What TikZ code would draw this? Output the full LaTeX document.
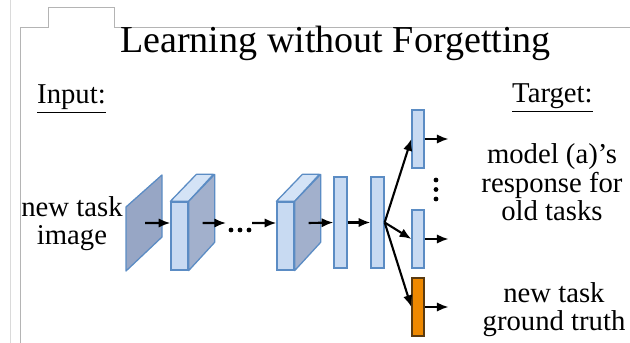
\documentclass[tikz,border=0pt]{standalone}
\usepackage{fontspec}
\setmainfont{Liberation Serif}
\usetikzlibrary{positioning,arrows.meta}
\definecolor{lwfFront}{HTML}{C8DAF2}
\definecolor{lwfTop}{HTML}{D4E3F6}
\definecolor{lwfSide}{HTML}{A2B0CC}
\definecolor{lwfPlane}{HTML}{97A6C5}
\definecolor{lwfEdge}{HTML}{5B8CC4}
\definecolor{lwfOrange}{HTML}{EE8800}
\definecolor{lwfOrangeEdge}{HTML}{5A3A10}
\definecolor{lwfFrame}{HTML}{B4B4B4}
\definecolor{lwfFrameLight}{HTML}{DADADA}

\begin{document}
\begin{tikzpicture}[
    x=0.03cm, y=-0.03cm,
    heading/.style={font=\fontsize{32.5}{36}\selectfont, anchor=base, inner sep=0pt},
    label/.style={font=\fontsize{24.5}{24.7}\selectfont, align=center, anchor=base, inner sep=0pt},
    front/.style={draw=lwfEdge, fill=lwfFront, line width=1.1pt, minimum width=0.51cm, minimum height=2.04cm, inner sep=0pt},
    topface/.style={draw=lwfEdge, fill=lwfTop, line width=1.1pt, line join=round},
    sideface/.style={draw=lwfEdge, fill=lwfSide, line width=1.1pt, line join=round},
    fc/.style={draw=lwfEdge, fill=lwfFront, line width=1.1pt, minimum width=0.39cm, minimum height=2.73cm, inner sep=0pt},
    head/.style={draw=lwfEdge, fill=lwfFront, line width=1.1pt, minimum width=0.36cm, minimum height=1.74cm, inner sep=0pt},
    arrow/.style={-{Latex[length=10pt,width=8pt]}, line width=1.8pt, black}
]
    \useasboundingbox (0,0) rectangle (630,343);

    % window edges of the screenshot
    \draw[lwfFrameLight, line width=0.6pt] (10,0) -- (10,343);
    \draw[lwfFrame, line width=0.6pt] (20,343) -- (20,27) -- (48,27) -- (48,7) -- (114,7) -- (114,27) -- (630,27);

    % texts (multi-line nodes sit on their last baseline)
    \node[heading] (title) at (335.5,53) {Learning without Forgetting};
    \node[label, anchor=base west] (input) at (37,104) {\underline{Input:}};
    \node[label, anchor=base west] (target) at (512,103) {\underline{Target:}};
    \node[label] (newimg) at (72,245) {new task\\image};
    \node[label] (oldresp) at (552,221) {model (a)'s\\response for\\old tasks};
    \node[label] (newgt) at (554,331) {new task\\ground truth};

    % input image
    \draw[sideface, fill=lwfPlane] (126,207) -- (162,175) -- (162,237) -- (126,271) -- cycle;
    \coordinate (img) at (145,223);

    % conv blocks
    \node[front] (conv1) at (179.5,236) {};
    \node[front] (conv2) at (285.5,236) {};
    \foreach \b in {conv1,conv2} {
        \draw[topface] (\b.north west) -- ++(26,-27) -- ++(17,0) -- (\b.north east) -- cycle;
        \draw[sideface] (\b.north east) -- ++(26,-27) -- ++(0,68) -- (\b.south east) -- cycle;
    }
    \coordinate (gapL) at (226,223);
    \coordinate (gapR) at (252,223);
    \foreach \x in {231,240,249}
        \fill (\x,230) circle (2.4);

    % fully connected layers
    \node[fc] (fc1) at (340.5,222.5) {};
    \node[fc] (fc2) at (377.5,222.5) {};

    % heads
    \node[head] (head1) at (418,139) {};
    \node[head] (head2) at (418,239) {};
    \node[head, fill=lwfOrange, draw=lwfOrangeEdge] (headnew) at (418,307) {};
    \foreach \y in {180,189.5,199}
        \fill (436,\y) circle (2.4);

    \coordinate[right=0.72cm of head1.east] (out1);
    \coordinate[right=0.72cm of head2.east] (out2);
    \coordinate[right=0.72cm of headnew.east] (outnew);

    % arrows
    \draw[arrow] (img) -- ([yshift=0.39cm]conv1.west);
    \draw[arrow] ([shift={(0.42cm,0.39cm)}]conv1.east) -- (gapL);
    \draw[arrow] (gapR) -- ([yshift=0.39cm]conv2.west);
    \draw[arrow] ([shift={(0.42cm,0.39cm)}]conv2.east) -- (fc1.west);
    \draw[arrow] (fc1) -- (fc2);
    \draw[arrow] (fc2.east) -- (head1.west);
    \draw[arrow] (fc2.east) -- (head2.west);
    \draw[arrow] (fc2.east) -- (headnew.west);
    \draw[arrow] (head1.east) -- (out1);
    \draw[arrow] (head2.east) -- (out2);
    \draw[arrow] (headnew.east) -- (outnew);
\end{tikzpicture}
\end{document}
